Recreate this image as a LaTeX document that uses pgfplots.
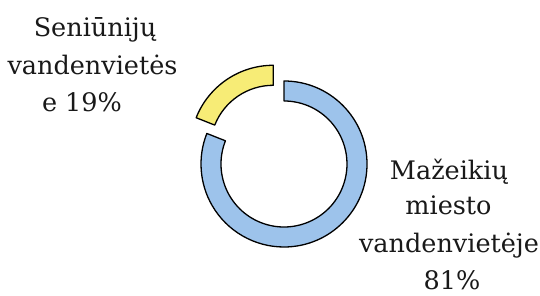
\documentclass[border=0pt]{standalone}
\usepackage{fontspec}
\setmainfont{DejaVu Serif}
\newfontfamily\dserif{DejaVu Serif}
\usepackage{pgfplots}
\pgfplotsset{compat=1.18}
\definecolor{ringblue}{RGB}{157,195,235}
\definecolor{ringyellow}{RGB}{247,236,118}
\definecolor{txt}{RGB}{25,25,25}
\tikzset{lbl/.style={anchor=base, text=txt, inner sep=0pt, font=\dserif\fontsize{25.5}{37.5}\selectfont}}
\begin{document}
\begin{tikzpicture}
\begin{axis}[hide axis, scale only axis, width=540pt, height=296pt,
  xmin=0, xmax=540, ymin=0, ymax=296, clip=false]
\path (axis cs:0,0) rectangle (axis cs:540,296);
% data: shares in percent
\pgfmathsetmacro\vA{81}% Mažeikių miesto vandenvietėje
\pgfmathsetmacro\vB{19}% Seniūnijų vandenvietėse
\pgfmathsetmacro\tot{\vA+\vB}
\pgfmathsetmacro\fA{\vA/\tot}
\pgfmathsetmacro\fB{\vB/\tot}
\pgfmathsetmacro\aEnd{90-360*\fA}
\pgfmathsetmacro\mid{90-360*\fA-180*\fB}
\def\cx{284}\def\cy{132}
\pgfmathsetmacro\cxy{\cx+19*cos(\mid)}
\pgfmathsetmacro\cyy{\cy+19*sin(\mid)}
% blue slice
\draw[line width=1.3pt, fill=ringblue, line join=round, draw=black]
  (axis cs:\cx,\cy) ++(90:83pt) arc[start angle=90, end angle=\aEnd, radius=83pt]
  -- ++({\aEnd+180}:20pt) arc[start angle=\aEnd, end angle=90, radius=63pt] -- cycle;
% yellow slice (exploded)
\draw[line width=1.3pt, fill=ringyellow, line join=round, draw=black]
  (axis cs:\cxy,\cyy) ++(\aEnd:83pt) arc[start angle=\aEnd, end angle=-270, radius=83pt]
  -- ++(-90:20pt) arc[start angle=-270, end angle=\aEnd, radius=63pt] -- cycle;
% labels
\node[lbl] at (axis cs:95,259) {Seniūnijų};
\node[lbl] at (axis cs:92.5,221) {vandenvietės};
\node[lbl] at (axis cs:82,184) {e 19\%};
\node[lbl] at (axis cs:449,116) {Mažeikių};
\node[lbl] at (axis cs:448.5,81) {miesto};
\node[lbl] at (axis cs:449,43) {vandenvietėje};
\node[lbl] at (axis cs:452,6) {81\%};
\end{axis}
\end{tikzpicture}
\end{document}
